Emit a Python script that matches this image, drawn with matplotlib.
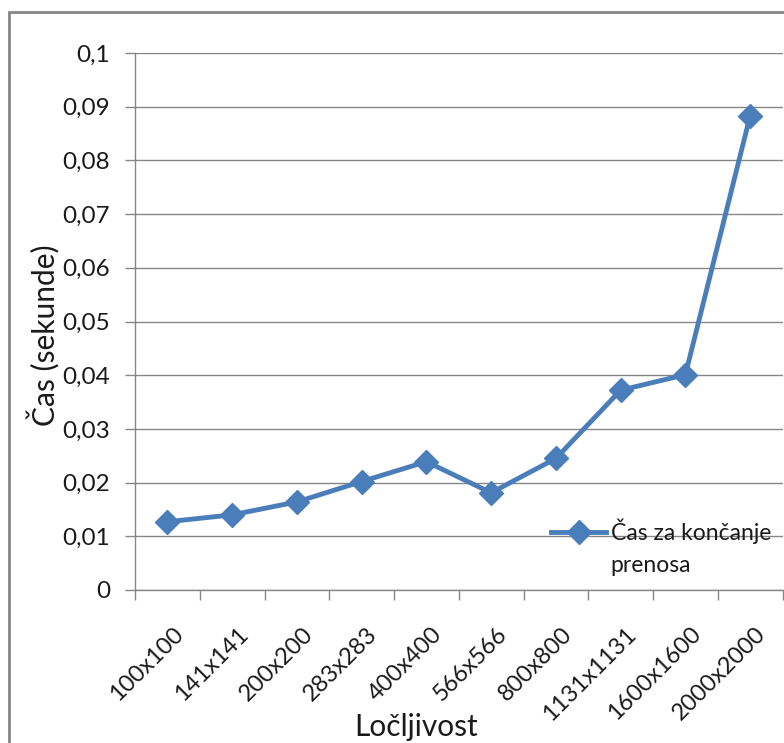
import matplotlib
matplotlib.use("Agg")
import matplotlib.pyplot as plt
from matplotlib.patches import Rectangle
from matplotlib.ticker import FuncFormatter, FixedLocator, MultipleLocator
from matplotlib.transforms import ScaledTranslation

categories = ["100x100", "141x141", "200x200", "283x283", "400x400",
              "566x566", "800x800", "1131x1131", "1600x1600", "2000x2000"]
values = [0.0127, 0.0140, 0.0164, 0.0202, 0.0239,
          0.0181, 0.0245, 0.0372, 0.0401, 0.0883]
series_label_1 = "Čas za končanje"
series_label_2 = "prenosa"
xlabel = "Ločljivost"
ylabel = "Čas (sekunde)"

plt.rcParams['font.family'] = ['Lato', 'DejaVu Sans']
blue = "#4A7EBB"
gray = "#868686"
txt = "#1a1a1a"

fig = plt.figure(figsize=(7.84, 7.43), dpi=100)
ax = fig.add_axes([135/784, 1-590/743, (782.5-135)/784, (590-53)/743])

x = list(range(len(categories)))
ax.plot(x, values, color=blue, lw=3.5, marker='D', markersize=12.5,
        label=series_label_1, zorder=3, clip_on=False)

ax.set_xlim(-0.5, len(categories)-0.5)
ax.set_ylim(0, 0.1)
ax.yaxis.set_major_locator(MultipleLocator(0.01))
ax.yaxis.set_major_formatter(FuncFormatter(
    lambda v, p: "0" if abs(v) < 1e-12 else ("%g" % round(v, 3)).replace('.', ',')))
ax.grid(axis='y', color=gray, lw=1)
ax.set_axisbelow(True)

ax.set_xticks(x)
ax.set_xticklabels(categories, rotation=45, ha='right', va='top',
                   rotation_mode='anchor', fontsize=17, color=txt)
ax.xaxis.set_minor_locator(FixedLocator([i - 0.5 for i in range(len(categories)+1)]))
ax.tick_params(axis='x', which='major', length=0, pad=24)
ax.tick_params(axis='x', which='minor', length=7, color=gray, width=1)
ax.tick_params(axis='y', length=7, color=gray, width=1, labelsize=17.5,
               labelcolor=txt, pad=11)
off = ScaledTranslation(5/100, 0, fig.dpi_scale_trans)
for lab in ax.get_xticklabels():
    lab.set_transform(lab.get_transform() + off)

for s in ['top', 'right']:
    ax.spines[s].set_visible(False)
for s in ['left', 'bottom']:
    ax.spines[s].set_color(gray)
    ax.spines[s].set_linewidth(1)

ax.set_xlabel(xlabel, fontsize=21.5, color=txt)
ax.xaxis.label.set_va('top')
ax.xaxis.set_label_coords((416-135)/647.5, (590-713)/537)
ax.set_ylabel(ylabel, fontsize=21.5, color=txt)
ax.yaxis.label.set_va('center')
ax.yaxis.label.set_ha('center')
ax.yaxis.set_label_coords((44-135)/647.5, (590-335)/537)

leg = ax.legend(loc='center left', bbox_to_anchor=(551/784, 1-531/743),
                bbox_transform=fig.transFigure, frameon=False, fontsize=16.5,
                handlelength=2.4, handletextpad=0.2, borderpad=0, borderaxespad=0)
t1 = leg.get_texts()[0]
t1.set_color(txt)
ax.annotate(series_label_2, xy=(0, 0), xycoords=t1, xytext=(0, -32),
            textcoords='offset pixels', ha='left', va='bottom',
            fontsize=16.5, color=txt, zorder=10, annotation_clip=False)

fig.add_artist(Rectangle((9/784, -0.5), 2, (743-12)/743 + 0.5,
                         transform=fig.transFigure, fill=False,
                         edgecolor=gray, lw=2))

fig.savefig("out.png", dpi=100)
